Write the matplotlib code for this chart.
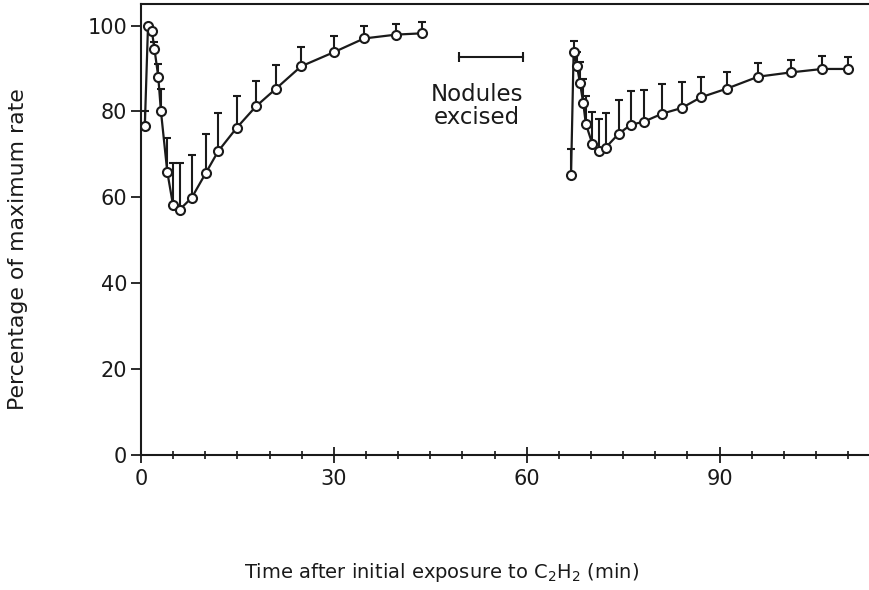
"""
Nitrogenase activity after C2H2 exposure, before and after nodule excision.
"""
import matplotlib
matplotlib.use("Agg")
import matplotlib.pyplot as plt

# first series (intact nodules)
T_INTACT = [0.6, 1.1, 1.7, 2.1, 2.7, 3.1, 4.1, 5.0, 6.0, 7.9, 10.1, 12.0,
            14.9, 17.9, 21.0, 24.9, 30.0, 34.7, 39.7, 43.7]
Y_INTACT = [76.5, 100.0, 98.7, 94.6, 88.0, 80.2, 65.9, 58.1, 57.1, 59.9,
            65.7, 70.7, 76.2, 81.2, 85.3, 90.5, 93.8, 97.0, 97.9, 98.2]
ERR_INTACT = [3.5, 0.0, 0.0, 1.5, 3.0, 5.0, 8.0, 10.0, 11.0, 10.0, 9.0,
              9.0, 7.5, 6.0, 5.6, 4.5, 3.7, 2.8, 2.5, 2.6]

# second series (excised nodules)
T_EXCISED = [66.9, 67.3, 67.8, 68.3, 68.8, 69.2, 70.2, 71.3, 72.3, 74.3,
             76.2, 78.2, 81.1, 84.1, 87.1, 91.1, 96.0, 101.1, 106.0, 110.0]
Y_EXCISED = [65.3, 93.8, 90.7, 86.6, 81.9, 77.1, 72.5, 70.8, 71.6, 74.8,
             76.9, 77.6, 79.5, 80.8, 83.3, 85.3, 88.1, 89.1, 89.9, 89.9]
ERR_EXCISED = [6.0, 2.7, 3.1, 4.9, 5.7, 6.6, 7.3, 7.5, 8.0, 7.8, 7.8, 7.4,
               6.8, 6.0, 4.8, 3.8, 3.2, 2.9, 3.0, 2.7]

X_TICKS = [0, 30, 60, 90]
Y_TICKS = [0, 20, 40, 60, 80, 100]
EXCISION = [49.5, 59.5]

INK = "#1a1a1a"


def main() -> None:
    fig = plt.figure(figsize=(8.7, 5.9), dpi=100)
    ax = fig.add_axes([0.162, 0.229, 0.838, 0.764])

    for t, y, e in ((T_INTACT, Y_INTACT, ERR_INTACT),
                    (T_EXCISED, Y_EXCISED, ERR_EXCISED)):
        ax.errorbar(t, y, yerr=[[0] * len(e), e], color=INK, lw=1.6,
                    elinewidth=1.5, capsize=2.6, capthick=1.5,
                    marker="o", ms=6.5, mfc="white", mec=INK, mew=1.5,
                    zorder=3)

    # excision interval marker
    ax.plot(EXCISION, [92.6, 92.6], color=INK, lw=1.5, marker="|", ms=7,
            mew=1.5)
    ax.text(52.2, 81.3, "Nodules\nexcised", ha="center", va="center",
            fontsize=16.5, color=INK, linespacing=1.0)

    ax.set_xlim(0, 113.4)
    ax.set_ylim(0, 105)
    ax.set_xticks(X_TICKS)
    ax.set_xticks(range(0, 114, 5), minor=True)
    ax.set_yticks(Y_TICKS)
    ax.tick_params(axis="x", which="major", direction="inout", length=12,
                   width=1.3, labelsize=15, pad=4, colors=INK)
    ax.tick_params(axis="x", which="minor", direction="inout", length=6,
                   width=1.1)
    ax.tick_params(axis="y", direction="out", length=7, width=1.3,
                   labelsize=15, pad=3, colors=INK)
    ax.spines["right"].set_visible(False)
    for side in ("left", "bottom", "top"):
        ax.spines[side].set_linewidth(1.5)
        ax.spines[side].set_color(INK)

    fig.text(0.021, 0.578, "Percentage of maximum rate", rotation=90,
             ha="center", va="center", fontsize=15.8, color=INK)
    fig.text(0.508, 0.03, "Time after initial exposure to C$_2$H$_2$ (min)",
             ha="center", va="center", fontsize=14, color=INK)

    fig.savefig("out.png", dpi=100)


if __name__ == "__main__":
    main()
